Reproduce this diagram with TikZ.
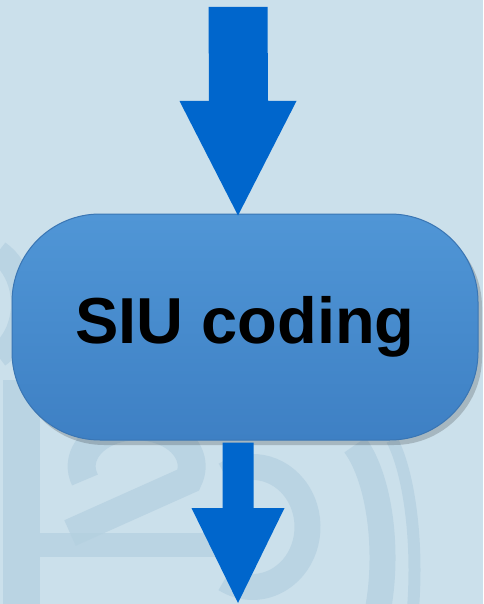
\documentclass[tikz,border=0pt]{standalone}
\usepackage{fontspec}
\setmainfont{Liberation Sans}
\definecolor{bgc}{HTML}{CBE0EB}
\definecolor{wm}{HTML}{B4D0E0}
\definecolor{arrowc}{HTML}{0066CC}
\definecolor{boxtop}{HTML}{5096D6}
\definecolor{boxbot}{HTML}{3E80C4}
\definecolor{boxline}{HTML}{3A76B4}
\tikzset{
  wmark/.style={wm, opacity=0.7},
  fatarrow/.style={fill=arrowc, draw=none},
  siubox/.style={rounded corners=88pt, top color=boxtop, bottom color=boxbot, draw=boxline, line width=1pt,
    minimum width=466pt, minimum height=226pt, inner sep=0pt,
    font=\fontsize{65}{65}\selectfont\bfseries, text=black}
}
\begin{document}
\begin{tikzpicture}[x=1pt,y=-1pt]
\fill[bgc] (0,0) rectangle (483,604);
\useasboundingbox (0,0) rectangle (483,604);
% faint watermark
\fill[wmark] (3,380) rectangle (40,604);
\fill[wmark] (40,533) rectangle (215,557);
\draw[wmark, line width=28pt] (85,480) arc[start angle=160, end angle=380, x radius=55, y radius=40] -- (70,533);
\draw[wmark, line width=26pt] (225,475) arc[start angle=-120, end angle=120, x radius=55, y radius=60];
\draw[wmark, line width=26pt] (355,445) arc[start angle=-60, end angle=60, x radius=55, y radius=130];
\draw[wmark, line width=12pt] (392,440) arc[start angle=-60, end angle=55, x radius=45, y radius=150];
\draw[wmark, line width=24pt] (-2,252) arc[start angle=-60, end angle=60, x radius=50, y radius=60];
% shadow
\fill[black, opacity=0.18, rounded corners=88pt] (16,219) rectangle (482,445);
% box
\node[siubox] (siu) at (245,327) {SIU coding};
% top arrow
\coordinate (tin) at (238,7);
\fill[fatarrow] (tin) ++(-29.5,0) -- ++(59,0) -- (268,101) -- (296.5,101) -- ([yshift=-2pt]siu.north -| tin) -- (179.5,101) -- (209,101) -- cycle;
% bottom arrow
\coordinate (tout) at (238,603);
\fill[fatarrow] (siu.south -| tout) ++(-15.5,2) -- ++(31,0) -- (253.5,508) -- (284.5,508) -- (tout) -- (191.5,508) -- (222.5,508) -- cycle;
\end{tikzpicture}
\end{document}
